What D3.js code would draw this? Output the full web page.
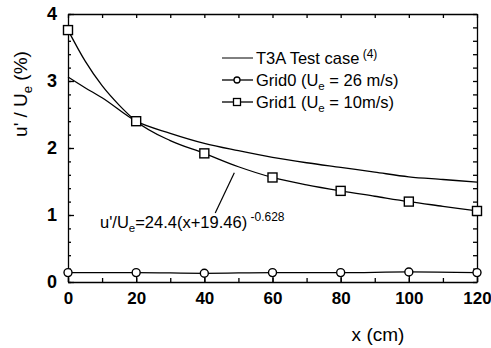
<!DOCTYPE html>
<html>
<head>
<meta charset="utf-8">
<script src="https://cdn.jsdelivr.net/npm/d3@7"></script>
<style>
  body { margin: 0; background: #fff; }
  svg { font-family: "Liberation Sans", Arial, sans-serif; }
  .domain, .tick line { stroke: #000; stroke-width: 1.3; }
</style>
</head>
<body>
<svg id="chart"></svg>
<script>
// x positions (cm)
var stations = [0, 20, 40, 60, 80, 100, 120];
// Grid0 (Ue = 26 m/s) measured u'/Ue (%)
var grid0 = [0.14, 0.14, 0.13, 0.14, 0.14, 0.15, 0.14];
// Grid1 (Ue = 10 m/s) measured u'/Ue (%)
var grid1 = [3.76, 2.40, 1.92, 1.56, 1.36, 1.20, 1.06];
// fitted curve through Grid1
var fitX = [0, 5, 10, 15, 20, 30, 40, 50, 60, 70, 80, 90, 100, 110, 120];
var fitY = [3.76, 3.30, 2.93, 2.64, 2.40, 2.11, 1.92, 1.72, 1.56, 1.45, 1.36, 1.28, 1.20, 1.13, 1.06];
// T3A test case curve
var t3aX = [0, 5, 10, 20, 30, 40, 50, 60, 70, 80, 90, 100, 110, 120];
var t3aY = [3.06, 2.90, 2.75, 2.40, 2.22, 2.07, 1.96, 1.86, 1.78, 1.71, 1.64, 1.57, 1.53, 1.49];
var xTicks = [0, 20, 40, 60, 80, 100, 120];
var yTicks = [0, 1, 2, 3, 4];

function drawChart(width, height) {
  const svg = d3.select('#chart')
    .attr('width', width)
    .attr('height', height)
    .attr('viewBox', `0 0 ${width} ${height}`);

  const left = 68, right = 477, top = 14, bottom = 282;

  const xScale = d3.scaleLinear().domain([0, 120]).range([left, right]);
  const yScale = d3.scaleLinear().domain([0, 4]).range([bottom, top]);

  // minor ticks all round
  const minorX = d3.range(0, 121, 10);
  const minorY = d3.range(0, 4.01, 0.2);

  svg.append('g')
    .attr('transform', `translate(0, ${bottom})`)
    .call(d3.axisBottom(xScale).tickValues(minorX).tickSize(-4).tickFormat(''))
    .call(g => g.select('.domain').remove());
  svg.append('g')
    .attr('transform', `translate(0, ${top})`)
    .call(d3.axisTop(xScale).tickValues(minorX).tickSize(-4).tickFormat('').tickSizeOuter(0));
  svg.append('g')
    .attr('transform', `translate(${right}, 0)`)
    .call(d3.axisRight(yScale).tickValues(minorY).tickSize(-4).tickFormat('').tickSizeOuter(0));
  svg.append('g')
    .attr('transform', `translate(${left}, 0)`)
    .call(d3.axisLeft(yScale).tickValues(minorY).tickSize(-3).tickFormat(''))
    .call(g => g.select('.domain').remove());

  // major axes with labels
  svg.append('g')
    .attr('transform', `translate(0, ${bottom})`)
    .call(d3.axisBottom(xScale).tickValues(xTicks).tickSize(-8).tickSizeOuter(0).tickPadding(10))
    .call(g => g.selectAll('text')
      .attr('font-size', 17).attr('font-weight', 'bold').attr('fill', '#000')
      .attr('font-family', '"Liberation Sans", Arial, sans-serif'));

  svg.append('g')
    .attr('transform', `translate(${left}, 0)`)
    .call(d3.axisLeft(yScale).tickValues(yTicks).tickFormat(d3.format('d'))
      .tickSize(-6).tickSizeOuter(0).tickPadding(11))
    .call(g => g.selectAll('text')
      .attr('font-size', 18).attr('font-weight', 'bold').attr('fill', '#000')
      .attr('font-family', '"Liberation Sans", Arial, sans-serif'));

  // axis titles
  svg.append('text')
    .attr('x', 378)
    .attr('y', 341)
    .attr('text-anchor', 'middle')
    .attr('font-size', 19)
    .text('x (cm)');

  const yl = svg.append('text')
    .attr('transform', 'translate(27, 94) rotate(-90)')
    .attr('text-anchor', 'middle')
    .attr('font-size', 19);
  yl.append('tspan').text("u' / U");
  yl.append('tspan').attr('font-size', 13).attr('dy', 5).text('e');
  yl.append('tspan').attr('dy', -5).text(' (%)');

  const line = d3.line()
    .x(d => xScale(d[0]))
    .y(d => yScale(d[1]))
    .curve(d3.curveMonotoneX);

  const lineStyle = sel => sel.attr('fill', 'none').attr('stroke', '#000').attr('stroke-width', 1.3);

  svg.append('path')
    .datum(t3aX.map((x, i) => [x, t3aY[i]]))
    .attr('d', line).call(lineStyle);

  svg.append('path')
    .datum(fitX.map((x, i) => [x, fitY[i]]))
    .attr('d', line).call(lineStyle);

  svg.append('path')
    .datum(stations.map((x, i) => [x, grid0[i]]))
    .attr('d', line).call(lineStyle);

  // markers
  svg.selectAll('.circ')
    .data(stations.map((x, i) => [x, grid0[i]]))
    .enter()
    .append('circle')
    .attr('class', 'circ')
    .attr('cx', d => xScale(d[0]))
    .attr('cy', d => yScale(d[1]))
    .attr('r', 4)
    .attr('fill', '#fff')
    .attr('stroke', '#000')
    .attr('stroke-width', 1.4);

  svg.selectAll('.sq')
    .data(stations.map((x, i) => [x, grid1[i]]))
    .enter()
    .append('rect')
    .attr('class', 'sq')
    .attr('x', d => xScale(d[0]) - 4.5)
    .attr('y', d => yScale(d[1]) - 4.5)
    .attr('width', 9)
    .attr('height', 9)
    .attr('fill', '#fff')
    .attr('stroke', '#000')
    .attr('stroke-width', 1.4);

  // legend
  const legendRows = [
    { name: 'T3A Test case', sup: '(4)', marker: 'none', y: 58 },
    { name: 'Grid0 (U', sub: 'e', rest: ' = 26 m/s)', marker: 'circle', y: 80 },
    { name: 'Grid1 (U', sub: 'e', rest: ' = 10m/s)', marker: 'square', y: 102 }
  ];
  const lg = svg.append('g');
  legendRows.forEach(r => {
    lg.append('line')
      .attr('x1', 222).attr('x2', 253)
      .attr('y1', r.y).attr('y2', r.y)
      .attr('stroke', '#000').attr('stroke-width', r.marker === 'none' ? 1 : 1.3);
    if (r.marker === 'circle') {
      lg.append('circle').attr('cx', 237).attr('cy', r.y).attr('r', 3)
        .attr('fill', '#fff').attr('stroke', '#000').attr('stroke-width', 1.3);
    } else if (r.marker === 'square') {
      lg.append('rect').attr('x', 233.5).attr('y', r.y - 3.5).attr('width', 7).attr('height', 7)
        .attr('fill', '#fff').attr('stroke', '#000').attr('stroke-width', 1.3);
    }
    const t = lg.append('text')
      .attr('x', 256)
      .attr('y', r.y + 6)
      .attr('font-size', 16.5);
    t.append('tspan').text(r.name);
    if (r.sup) t.append('tspan').attr('font-size', 12).attr('dy', -6).text(' ' + r.sup);
    if (r.sub) {
      t.append('tspan').attr('font-size', 11.5).attr('dy', 4).text(r.sub);
      t.append('tspan').attr('dy', -4).text(r.rest);
    }
  });

  // annotation for the fit
  svg.append('line')
    .attr('x1', xScale(43.2)).attr('y1', yScale(1.03))
    .attr('x2', xScale(48.8)).attr('y2', yScale(1.63))
    .attr('stroke', '#000').attr('stroke-width', 1.2);

  const ann = svg.append('text')
    .attr('x', 100)
    .attr('y', 228)
    .attr('font-size', 16.5);
  ann.append('tspan').text("u'/U");
  ann.append('tspan').attr('font-size', 11.5).attr('dy', 4).text('e');
  ann.append('tspan').attr('dy', -4).text('=24.4(x+19.46)');
  ann.append('tspan').attr('font-size', 12).attr('dy', -7).text(' -0.628');
}

drawChart(491, 348);
</script>
</body>
</html>
